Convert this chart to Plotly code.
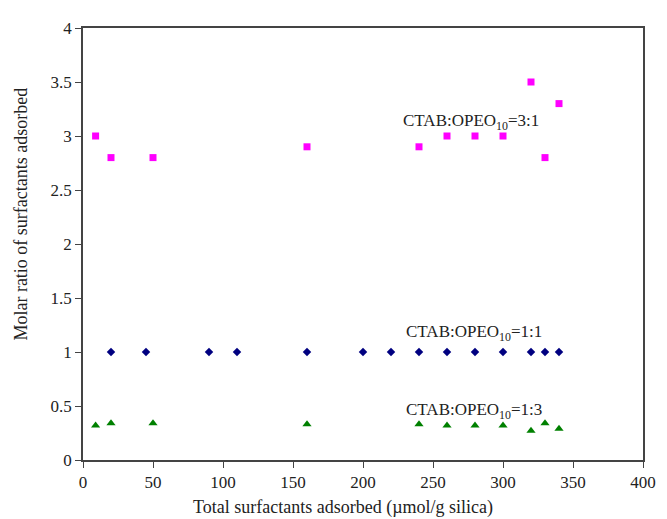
import plotly.graph_objects as go

# Data
x_31 = [9, 20, 50, 160, 240, 260, 280, 300, 320, 330, 340]
y_31 = [3.0, 2.8, 2.8, 2.9, 2.9, 3.0, 3.0, 3.0, 3.5, 2.8, 3.3]

x_11 = [20, 45, 90, 110, 160, 200, 220, 240, 260, 280, 300, 320, 330, 340]
y_11 = [1.0, 1.0, 1.0, 1.0, 1.0, 1.0, 1.0, 1.0, 1.0, 1.0, 1.0, 1.0, 1.0, 1.0]

x_13 = [9, 20, 50, 160, 240, 260, 280, 300, 320, 330, 340]
y_13 = [0.32, 0.34, 0.34, 0.33, 0.33, 0.32, 0.32, 0.32, 0.27, 0.34, 0.29]

labels = ["CTAB:OPEO<sub>10</sub>=3:1", "CTAB:OPEO<sub>10</sub>=1:1", "CTAB:OPEO<sub>10</sub>=1:3"]
label_x = [277, 279, 279]
label_y = [3.13, 1.18, 0.45]

x_ticks = [0, 50, 100, 150, 200, 250, 300, 350, 400]
y_ticks = [0, 0.5, 1, 1.5, 2, 2.5, 3, 3.5, 4]

FONT = "Liberation Serif, Times New Roman, serif"

fig = go.Figure()
fig.add_trace(go.Scatter(x=x_31, y=y_31, mode="markers",
                         marker=dict(symbol="square", size=7, color="#FF00FF"),
                         name="3:1", cliponaxis=False))
fig.add_trace(go.Scatter(x=x_11, y=y_11, mode="markers",
                         marker=dict(symbol="diamond", size=6.5, color="#000080"),
                         name="1:1", cliponaxis=False))
fig.add_trace(go.Scatter(x=x_13, y=y_13, mode="markers",
                         marker=dict(symbol="triangle-up", size=8, color="#008000"),
                         name="1:3", cliponaxis=False))

annotations = []
for t, ax, ay in zip(labels, label_x, label_y):
    annotations.append(dict(x=ax, y=ay, xref="x", yref="y", text=t, showarrow=False,
                            font=dict(family=FONT, size=17, color="#222222"),
                            xanchor="center", yanchor="middle"))
annotations.append(dict(x=0.464, y=-0.109, xref="paper", yref="paper",
                        text="Total surfactants adsorbed (\u00b5mol/g silica)", showarrow=False,
                        font=dict(family=FONT, size=18, color="#222222"),
                        xanchor="center", yanchor="middle"))
annotations.append(dict(x=-0.111, y=0.57, xref="paper", yref="paper",
                        text="Molar ratio of surfactants adsorbed", showarrow=False,
                        textangle=-90,
                        font=dict(family=FONT, size=18, color="#222222"),
                        xanchor="center", yanchor="middle"))

fig.update_layout(
    width=659, height=511,
    margin=dict(l=75, r=17, t=11, b=59),
    paper_bgcolor="white", plot_bgcolor="white",
    showlegend=False,
    font=dict(family=FONT, size=17, color="#222222"),
    annotations=annotations,
    xaxis=dict(range=[0, 400], tickvals=x_ticks, ticktext=[str(v) for v in x_ticks],
               showgrid=False, zeroline=False, showline=True, linecolor="#444444",
               linewidth=1.6, mirror=True, ticks="outside", ticklen=6,
               tickcolor="#444444", tickwidth=1.2,
               tickfont=dict(family=FONT, size=17, color="#222222")),
    yaxis=dict(range=[0, 4], tickvals=y_ticks, ticktext=[str(v) for v in y_ticks],
               showgrid=False, zeroline=False, showline=True, linecolor="#444444",
               linewidth=1.6, mirror=True, ticks="outside", ticklen=6,
               tickcolor="#444444", tickwidth=1.2,
               tickfont=dict(family=FONT, size=17, color="#222222")),
)

fig.write_html("out.html")
